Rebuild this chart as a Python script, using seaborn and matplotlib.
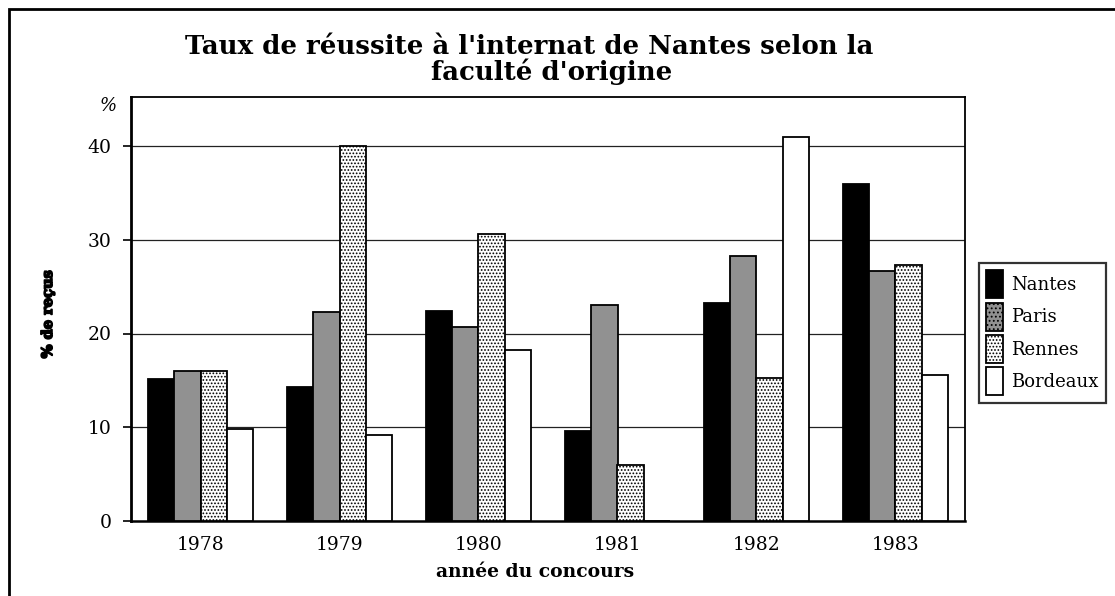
import numpy as np
import pandas as pd
import matplotlib
matplotlib.use("Agg")
import matplotlib.pyplot as plt
import matplotlib.patheffects as pe
import seaborn as sns
from matplotlib.patches import Rectangle, Patch

# ---- data ----
years = ["1978", "1979", "1980", "1981", "1982", "1983"]
facultes = ["Nantes", "Paris", "Rennes", "Bordeaux"]
nantes = [15.1, 14.3, 22.4, 9.6, 23.3, 35.9]
paris = [16.0, 22.3, 20.7, 23.0, 28.3, 26.7]
rennes = [16.0, 40.0, 30.6, 6.0, 15.3, 27.3]
bordeaux = [9.8, 9.2, 18.2, 0.0, 41.0, 15.6]
yticks = [0, 10, 20, 30, 40]

title1 = "Taux de réussite à l'internat de Nantes selon la"
title2 = "faculté d'origine"
xlabel = "année du concours"
ylabel = "% de reçus"

series = {"Nantes": nantes, "Paris": paris, "Rennes": rennes, "Bordeaux": bordeaux}
df = pd.DataFrame([(y, f, v) for f in facultes for y, v in zip(years, series[f])],
                  columns=["annee", "faculte", "taux"])

sns.set_theme(style="white")
plt.rcParams["font.family"] = ["DejaVu Serif"]
plt.rcParams["text.color"] = "black"
plt.rcParams["xtick.color"] = "black"
plt.rcParams["ytick.color"] = "black"
plt.rcParams["hatch.linewidth"] = 0.8

fig = plt.figure(figsize=(11.15, 5.96), dpi=100)
ax = fig.add_axes([131/1115, 1-521/596, (965-131)/1115, (521-97)/596])

face = {"Nantes": "black", "Paris": "#919191", "Rennes": "white", "Bordeaux": "white"}
hatches = {"Nantes": "", "Paris": "", "Rennes": ".....", "Bordeaux": ""}

sns.barplot(data=df, x="annee", y="taux", hue="faculte", order=years,
            hue_order=facultes, palette=face, width=0.75, gap=0,
            edgecolor="black", linewidth=1.3, saturation=1, ax=ax, legend=False,
            zorder=3)
for cont, f in zip(ax.containers, facultes):
    for bar in cont:
        bar.set_hatch(hatches[f])
        bar.set_edgecolor("black")

ax.set_ylim(0, (521-97)/9.375)
ax.set_xlim(-0.5, 5.5)
ax.set_yticks(yticks)
ax.set_yticklabels([str(t) for t in yticks], fontsize=13.5, color="black")
ax.set_xticks(range(len(years)))
ax.set_xticklabels(years, fontsize=13.5, color="black")
ax.set_xticks(np.arange(-0.5, 6.0, 1.0), minor=True)
ax.tick_params(axis="x", which="major", length=0, pad=11)
ax.tick_params(axis="x", which="minor", direction="inout", length=9, width=1.5, color="black")
ax.tick_params(axis="y", which="major", direction="out", length=6, width=1.2, pad=8,
               color="black", left=True)
ax.set_xlabel("")
ax.set_ylabel("")
for ycoord in yticks[1:]:
    ax.axhline(ycoord, color="#222222", linewidth=0.9, zorder=1)
for s in ax.spines.values():
    s.set_visible(True)
    s.set_color("black")
    s.set_linewidth(1.3)
ax.spines["left"].set_linewidth(2)
ax.spines["bottom"].set_linewidth(1.8)

fig.text(529/1115, 1-47/596, title1, ha="center", va="center", fontsize=18.7, fontweight="bold")
fig.text(552/1115, 1-72/596, title2, ha="center", va="center", fontsize=18.7, fontweight="bold")
fig.text(535/1115, 1-572/596, xlabel, ha="center", va="center", fontsize=13.5, fontweight="bold")
fig.text(48/1115, 1-314/596, ylabel, ha="center", va="center", rotation=90,
         fontsize=10.5, fontweight="bold",
         path_effects=[pe.withStroke(linewidth=1.2, foreground="black")])
fig.text(108/1115, 1-106/596, "%", ha="center", va="center", fontsize=13, style="italic")

handles = [Patch(facecolor=face[f], edgecolor="black", hatch=hatches[f], linewidth=1.3)
           for f in facultes]
handles[1] = Patch(facecolor="#919191", edgecolor="black", hatch="....", linewidth=1.3)
leg = fig.legend(handles, facultes, loc="upper left",
                 bbox_to_anchor=(979/1115, 1-263/596), fontsize=13,
                 handlelength=0.95, handleheight=2.0, labelspacing=0.25,
                 handletextpad=0.45, borderpad=0.4, borderaxespad=0,
                 frameon=True, fancybox=False, shadow=False)
leg.get_frame().set_edgecolor("black")
leg.get_frame().set_linewidth(1.6)

fig.patches.append(Rectangle((9/1115, -0.1), 1.2, 1.1 - 9/596, transform=fig.transFigure,
                             fill=False, edgecolor="black", linewidth=2, figure=fig))

fig.savefig("out.png", dpi=100, facecolor="white")
